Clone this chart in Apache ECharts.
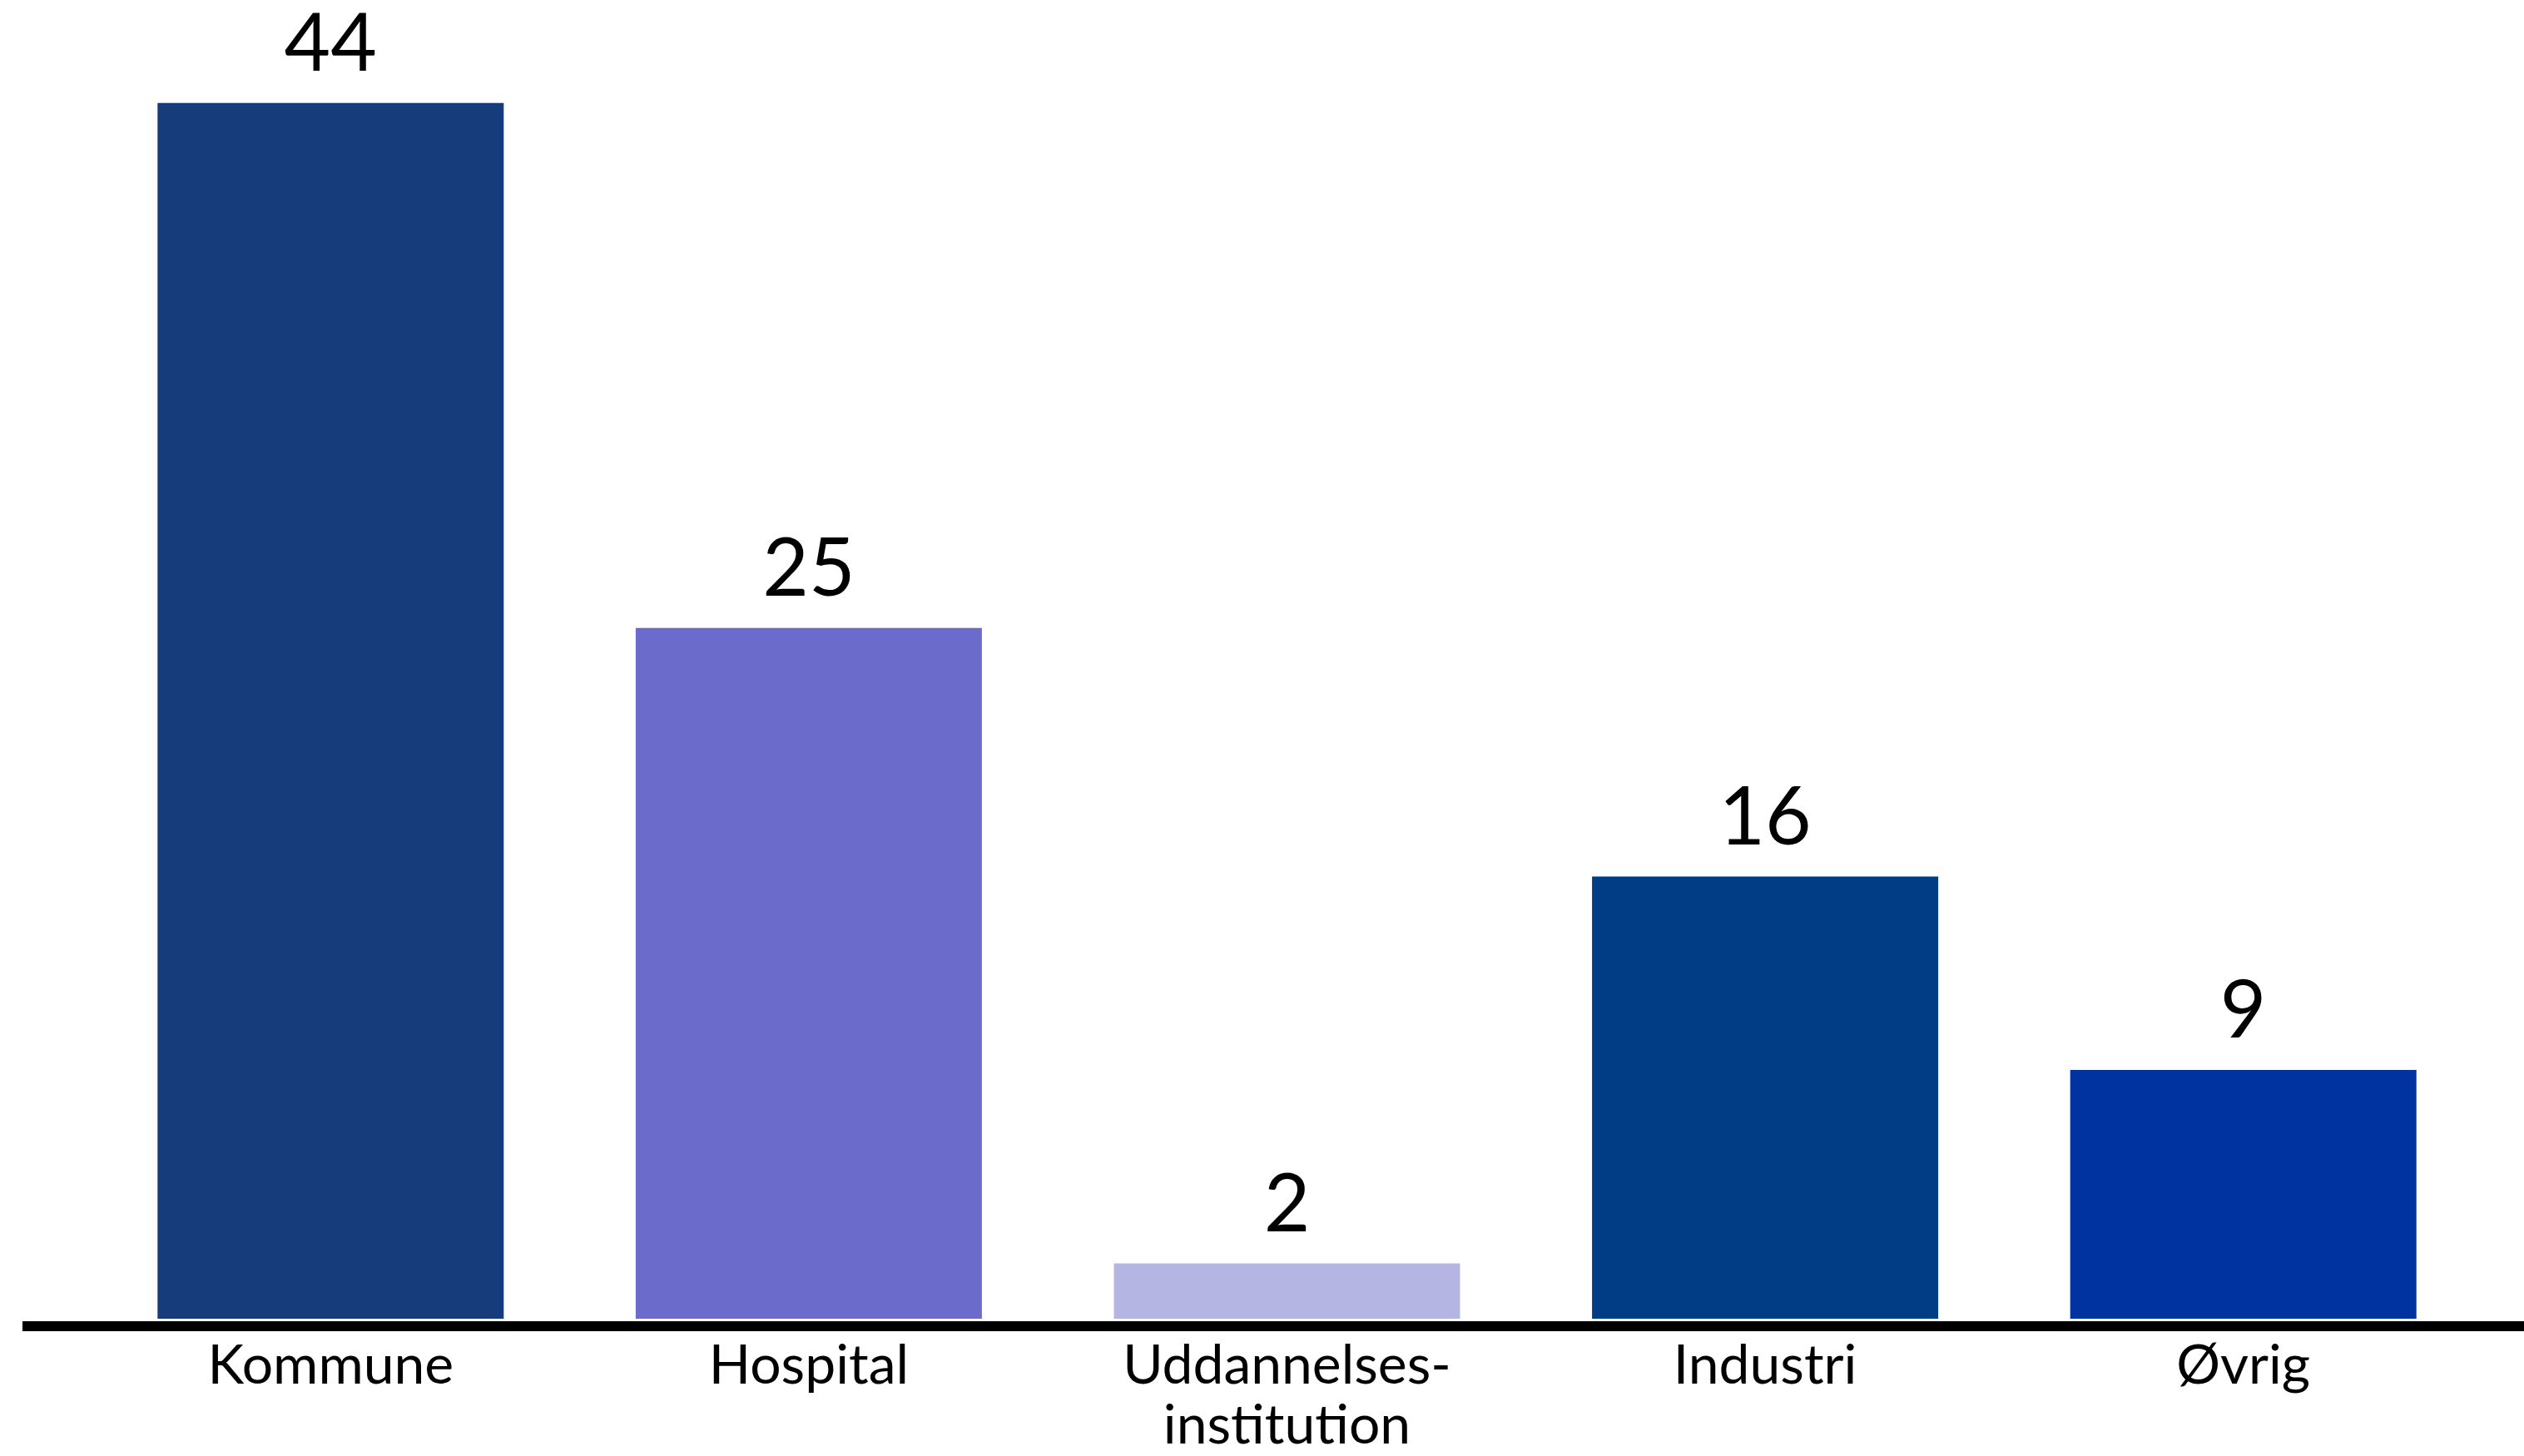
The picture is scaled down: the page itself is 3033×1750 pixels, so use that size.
<!DOCTYPE html>
<html>
<head>
<meta charset="utf-8">
<script src="https://cdn.jsdelivr.net/npm/echarts@6/dist/echarts.min.js"></script>
<style>
html,body{margin:0;padding:0;background:#fff;}
#chart{width:3033px;height:1750px;}
</style>
</head>
<body>
<div id="chart"></div>
<script>
const categories = ["Kommune", "Hospital", "Uddannelses-\ninstitution", "Industri", "Øvrig"];
const values = [44, 25, 2, 16, 9];
const barColors = ["#163C7B", "#6B6BCB", "#B5B5E3", "#003D85", "#0033A0"];

const chart = echarts.init(document.getElementById('chart'));
const gridBottom = 162;
chart.setOption({
  animation: false,
  backgroundColor: '#ffffff',
  grid: { left: 110, right: 50, top: 24, bottom: gridBottom },
  xAxis: {
    type: 'category',
    data: categories,
    axisLine: { show: false },
    axisTick: { show: false },
    axisLabel: {
      color: '#000',
      fontFamily: 'Lato',
      fontSize: 66,
      lineHeight: 72,
      margin: 21,
      interval: 0
    }
  },
  yAxis: {
    type: 'value',
    min: 0,
    max: 47,
    show: false,
    splitLine: { show: false }
  },
  series: [{
    type: 'bar',
    data: values.map((v, i) => ({ value: v, itemStyle: { color: barColors[i] } })),
    barCategoryGap: '27.6%',
    label: {
      show: true,
      position: 'top',
      distance: 22,
      color: '#000',
      fontFamily: 'Lato',
      fontSize: 96
    }
  }],
  graphic: [{
    type: 'line',
    shape: { x1: 27, y1: 1750 - gridBottom + 6, x2: 3033, y2: 1750 - gridBottom + 6 },
    style: { stroke: '#000', lineWidth: 12 },
    z: 10
  }]
});
</script>
</body>
</html>
